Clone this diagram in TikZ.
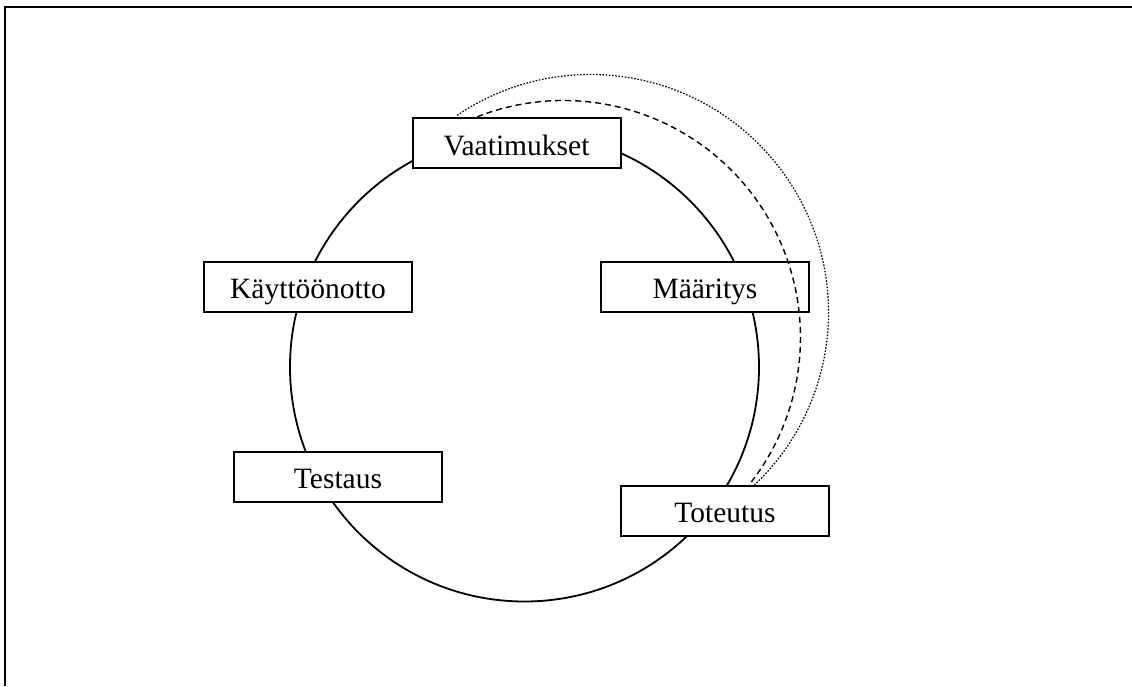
\documentclass[tikz,border=0pt]{standalone}
\usepackage{fontspec}
\setmainfont{Liberation Serif}
\begin{document}
\begin{tikzpicture}[x=1pt,y=1pt,
  phase/.style={draw, line width=2pt, fill=white, inner sep=0pt, outer sep=0pt,
    minimum width=208pt, minimum height=50pt, text height=23.6pt, text depth=0pt,
    font=\fontsize{29.5}{34}\selectfont},
  cycle/.style={line width=1.8pt},
  loopdash/.style={line width=1.4pt, dash pattern=on 6pt off 4pt},
  loopdot/.style={line width=1.2pt, dash pattern=on 1.6pt off 1.6pt}]
  \useasboundingbox (0,0) rectangle (1132,686);
  % frame
  \draw[line width=2pt] (5,0) -- (5,679) -- (1132,679);
  % life cycle ring
  \coordinate (ctr) at (524.5,319);
  \draw[cycle] (ctr) circle[radius=234.5];
  % phases
  \node[phase] (vaat) at (516.5,542.5) {Vaatimukset};
  \node[phase] (maar) at (705,399) {Määritys};
  \node[phase] (kayt) at (308,399) {Käyttöönotto};
  \node[phase] (test) at (338,209) {Testaus};
  \node[phase] (tote) at (725,175) {Toteutus};
  % iteration loops from implementation back to requirements
  \draw[loopdash] ([xshift=64.7pt,yshift=1.7pt]vaat.north west)
    arc[start angle=111.35, end angle=-39, radius=237];
  \draw[loopdot] ([xshift=44.6pt,yshift=3.1pt]vaat.north west)
    arc[start angle=124.1, end angle=-46.9, radius=238];
\end{tikzpicture}
\end{document}
